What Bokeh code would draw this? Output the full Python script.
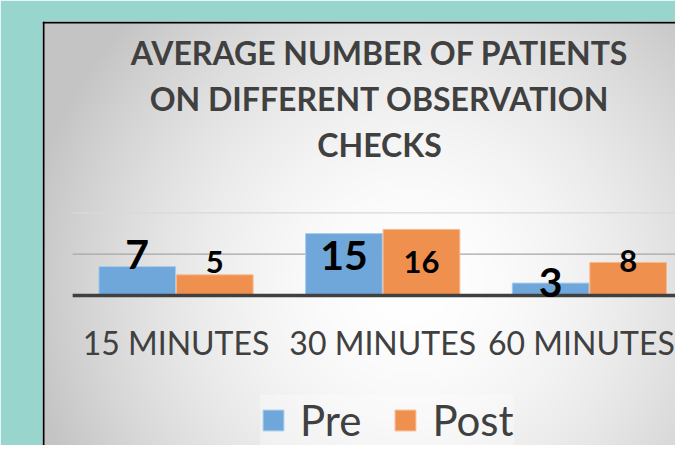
import numpy as np
from bokeh.plotting import figure
from bokeh.models import Range1d, Span, Legend, LegendItem, ColumnDataSource
from bokeh.core.properties import value
from bokeh.transform import dodge
from bokeh.embed import file_html
from bokeh.resources import INLINE

# ---------------- data ----------------
title_lines = ["AVERAGE NUMBER OF PATIENTS", "ON DIFFERENT OBSERVATION", "CHECKS"]
categories = ["15 MINUTES", "30 MINUTES", "60 MINUTES"]
series_names = ["Pre", "Post"]
pre = [7, 15, 3]
post = [5, 16, 8]
y_ticks = [10, 20]

# ---------------- style / layout ----------------
TEAL = "#97D5CD"
PRE_COLOR = "#6FA7DB"
POST_COLOR = "#F0904F"
PRE_EDGE = "#A9CBEA"
POST_EDGE = "#F6B994"
TEXT_GRAY = "#404040"
FONT = "Lato"

W, H = 675, 445            # canvas size
FRAME_L, FRAME_T = 42, 21  # canvas coords of the panel's top-left corner
XS = 206.7                 # px per category
YS = 4.13                  # px per unit
CAT0_X = 175.5             # canvas x of first category centre
BASE_Y = 295.0             # canvas y of value 0
K = 0.387                  # baseline correction (fraction of font size)

def X(px):
    return (px - CAT0_X) / XS

def Y(py):
    return (BASE_Y - py) / YS

x_start, x_end = X(FRAME_L), X(W)
y_start, y_end = Y(H), Y(FRAME_T)

p = figure(width=W, height=H, output_backend="svg", toolbar_location=None,
           x_axis_location=None, y_axis_location=None,
           x_range=Range1d(x_start, x_end), y_range=Range1d(y_start, y_end),
           min_border_left=FRAME_L, min_border_top=FRAME_T,
           min_border_right=0, min_border_bottom=0,
           border_fill_color=TEAL, background_fill_color="#e6e6e6",
           outline_line_color=None)
p.grid.visible = False

# radial gradient background of the panel
fw, fh = W - FRAME_L, H - FRAME_T
gx, gy = np.meshgrid(np.arange(fw) + FRAME_L + 0.5, np.arange(fh) + FRAME_T + 0.5)
r = np.sqrt((gx - 410.0) ** 2 + (gy - 285.0) ** 2) / 390.0
t = np.clip(r, 0, 1) ** 1.8
g = (255 - (255 - 196) * t).astype(np.uint32)
img = (255 << 24) | (g << 16) | (g << 8) | g
img = np.flipud(img).astype(np.uint32)
p.image_rgba(image=[img], x=x_start, y=y_start, dw=x_end - x_start, dh=y_end - y_start)

# panel border (left and top)
p.add_layout(Span(location=x_start + 1.0 / XS, dimension="height", line_color="black", line_width=2))
p.add_layout(Span(location=y_end - 1.0 / YS, dimension="width", line_color="black", line_width=2))

n = len(categories)
idx = list(range(n))

# gridlines
grid_colors = ["#a6a6a6", "#d9d9d9"]
p.segment(x0=[-0.5] * len(y_ticks), x1=[n - 0.5] * len(y_ticks), y0=y_ticks, y1=y_ticks,
          line_color=grid_colors, line_width=1.2)

PRE_FS, POST_FS, CAT_FS, TITLE_FS, LEG_FS = 41, 31, 32, 32, 42

# data-label baseline offsets in px from the bar top
pre_dy = [3.3, 37.7, 15.0]
post_dy = [-1.0, 44.7, 11.0]
cat_dx = [0, 0, -8]

src = ColumnDataSource(dict(x=idx, cat=categories, pre=pre, post=post,
                            pre_txt=[str(v) for v in pre], post_txt=[str(v) for v in post],
                            pre_dy=[d - K * PRE_FS for d in pre_dy],
                            post_dy=[d - K * POST_FS for d in post_dy],
                            cat_dx=cat_dx))

bw = 0.371
r_pre = p.vbar(x=dodge("x", -0.1875), top="pre", width=bw, source=src,
               fill_color=PRE_COLOR, line_color=PRE_EDGE, line_width=1)
r_post = p.vbar(x=dodge("x", 0.1875), top="post", width=bw, source=src,
                fill_color=POST_COLOR, line_color=POST_EDGE, line_width=1)

# category axis line
p.segment(x0=[-0.5], x1=[n - 0.5], y0=[0], y1=[0], line_color=TEXT_GRAY, line_width=3.5)

p.text(x=dodge("x", -0.1875), y="pre", text="pre_txt", y_offset="pre_dy", source=src,
       text_align="center", text_baseline="alphabetic",
       text_font=value(FONT), text_font_style="bold", text_font_size=f"{PRE_FS}px", text_color="black")
p.text(x=dodge("x", 0.1875), y="post", text="post_txt", y_offset="post_dy", source=src,
       text_align="center", text_baseline="alphabetic",
       text_font=value(FONT), text_font_style="bold", text_font_size=f"{POST_FS}px", text_color="black")

# category labels
p.text(x="x", y=Y(354.5 - K * CAT_FS), text="cat", x_offset="cat_dx", source=src,
       text_align="center", text_baseline="alphabetic",
       text_font=value(FONT), text_font_size=f"{CAT_FS}px", text_color=TEXT_GRAY)

# title
title_base = [64.0, 110.0, 156.5]
p.text(x=[X(379.0)] * len(title_lines), y=[Y(b - K * TITLE_FS) for b in title_base], text=title_lines,
       text_align="center", text_baseline="alphabetic",
       text_font=value(FONT), text_font_style="bold", text_font_size=f"{TITLE_FS}px",
       text_color=TEXT_GRAY)

legend = Legend(items=[LegendItem(label=series_names[0], renderers=[r_pre]),
                       LegendItem(label=series_names[1], renderers=[r_post])],
                orientation="horizontal", location=(218, 0),
                glyph_width=26, glyph_height=26, label_standoff=14, spacing=31,
                padding=10, margin=0,
                label_text_font=FONT, label_text_font_size=f"{LEG_FS}px", label_text_color=TEXT_GRAY,
                border_line_color=None, background_fill_color="white", background_fill_alpha=0.3)
p.add_layout(legend)

open("out.html", "w").write(file_html(p, INLINE))
